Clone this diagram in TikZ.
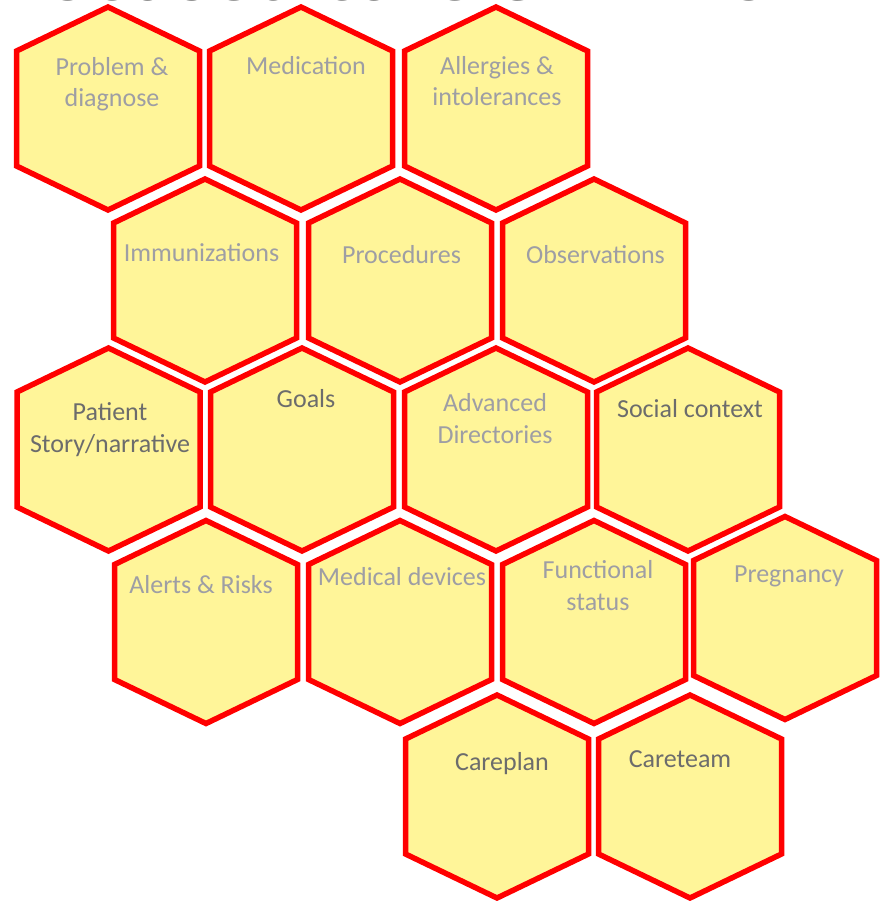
\documentclass[tikz,border=0pt]{standalone}
\usepackage{fontspec}
\setmainfont{Carlito}
\definecolor{hexfill}{RGB}{255,245,153}
\definecolor{hexline}{RGB}{255,0,0}
\definecolor{lightlabel}{RGB}{158,158,164}
\definecolor{darklabel}{RGB}{108,108,108}
\definecolor{titlegray}{RGB}{89,89,89}
\tikzset{
  hexcell/.style={fill=hexfill, draw=hexline, line width=5.5pt, line join=miter},
  lbl/.style={font=\fontsize{26}{31.5}\selectfont, align=center, inner sep=0pt, anchor=base},
  lightlbl/.style={lbl, text=lightlabel},
  darklbl/.style={lbl, text=darklabel},
  titletext/.style={font=\fontsize{89}{100}\selectfont, text=titlegray, inner sep=0pt, anchor=base east}
}
\newcommand{\hexat}[3]{%
  \draw[hexcell] (#1,#2-101.5) -- (#1+91.5,#2-57.5) -- (#1+91.5,#2+57.5) -- (#1,#2+101.5)
     -- (#1-91.5,#2+57.5) -- (#1-91.5,#2-57.5) -- cycle;
  \coordinate (#3) at (#1,#2);}
\begin{document}
\begin{tikzpicture}[x=1pt,y=-1pt]
\useasboundingbox (0,0) rectangle (884,901);
\clip (0,0) rectangle (884,901);
\fill[white] (0,0) rectangle (884,901);
\node[titletext] (title) at (771,1) {focused care \& EHDS};
% row 1
\hexat{108}{108.5}{h11}
\hexat{301}{108.5}{h12}
\hexat{496}{108.5}{h13}
% row 2
\hexat{205}{280.5}{h21}
\hexat{400}{280.5}{h22}
\hexat{594}{280.5}{h23}
% row 3
\hexat{108.5}{449.5}{h31}
\hexat{302}{449.5}{h32}
\hexat{496}{449.5}{h33}
\hexat{688}{449.5}{h34}
% row 4
\hexat{206}{622}{h41}
\hexat{400}{622}{h42}
\hexat{594}{622}{h43}
\hexat{785}{618}{h44}
% row 5
\hexat{497}{796.5}{h51}
\hexat{690}{796.5}{h52}
% labels (multi-line labels are placed by the baseline of their last line)
\node[lightlbl] (t11) at (112,107) {Problem \&\\diagnose};
\node[lightlbl] (t12) at (306,75) {Medication};
\node[lightlbl] (t13) at (497,106) {Allergies \&\\intolerances};
\node[lightlbl] (t21) at (201.5,261) {Immunizations};
\node[lightlbl] (t22) at (401.5,263) {Procedures};
\node[lightlbl] (t23) at (595.5,263) {Observations};
\node[darklbl] (t31) at (110,452) {Patient\\Story/narrative};
\node[darklbl] (t32) at (306,407) {Goals};
\node[lightlbl] (t33) at (495,443) {Advanced\\Directories};
\node[darklbl] (t34) at (690,417) {Social context};
\node[lightlbl] (t41) at (201,593) {Alerts \& Risks};
\node[lightlbl] (t42) at (402,585) {Medical devices};
\node[lightlbl] (t43) at (598,610) {Functional\\status};
\node[lightlbl] (t44) at (789,582) {Pregnancy};
\node[darklbl] (t51) at (502,770) {Careplan};
\node[darklbl] (t52) at (680,767) {Careteam};
\end{tikzpicture}
\end{document}
